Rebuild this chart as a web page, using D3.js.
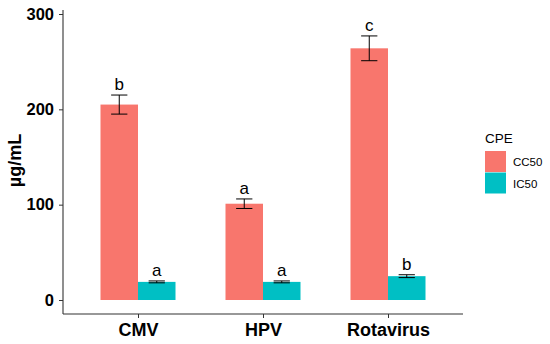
<!DOCTYPE html>
<html><head><meta charset="utf-8">
<script src="https://cdn.jsdelivr.net/npm/d3@7"></script>
<style>body{margin:0;background:#fff}</style>
</head><body>
<svg id="c" width="550" height="344"></svg>
<script>
const categories = ["CMV", "HPV", "Rotavirus"];
const groups = ["CC50", "IC50"];
const cc50 = [205, 101, 264];
const cc50Err = [10, 5, 13];
const cc50Letters = ["b", "a", "c"];
const ic50 = [19, 19, 25];
const ic50Err = [1, 1, 1.5];
const ic50Letters = ["a", "a", "b"];
const yTicks = [0, 100, 200, 300];
const colors = ["#F8766D", "#00BFC4"];

(function () {
const svg = d3.select("#c");
const pL = 63, pR = 463, pT = 10, pB = 314;
const FONT = "Liberation Sans, Arial, sans-serif";
const y = d3.scaleLinear().domain([0, 300]).range([300, 14]);
// discrete x with ggplot-like 0.6 expansion on each side
const x = d3.scalePoint().domain(categories).range([pL, pR]).padding(0.6);
const xs = d3.scaleBand().domain(groups).range([-x.step() * 0.3, x.step() * 0.3]);
const cx = d => x(d.c) + xs(d.g) + xs.bandwidth() / 2;

const data = [];
categories.forEach((c, i) => {
  data.push({c, g: "CC50", v: cc50[i], e: cc50Err[i], l: cc50Letters[i]});
  data.push({c, g: "IC50", v: ic50[i], e: ic50Err[i], l: ic50Letters[i]});
});
const col = d3.scaleOrdinal().domain(groups).range(colors);

svg.selectAll("rect.bar").data(data).enter().append("rect")
  .attr("x", d => x(d.c) + xs(d.g)).attr("width", xs.bandwidth())
  .attr("y", d => y(d.v)).attr("height", d => y(0) - y(d.v))
  .attr("fill", d => col(d.g));

const ew = x.step() * 0.065;
const eb = svg.selectAll("g.err").data(data).enter().append("g").attr("stroke", "#000").attr("stroke-width", 1);
eb.append("line").attr("x1", cx).attr("x2", cx)
  .attr("y1", d => y(d.v + d.e)).attr("y2", d => y(d.v - d.e));
eb.append("line").attr("x1", d => cx(d) - ew).attr("x2", d => cx(d) + ew)
  .attr("y1", d => y(d.v + d.e)).attr("y2", d => y(d.v + d.e));
eb.append("line").attr("x1", d => cx(d) - ew).attr("x2", d => cx(d) + ew)
  .attr("y1", d => y(d.v - d.e)).attr("y2", d => y(d.v - d.e));

svg.selectAll("text.lab").data(data).enter().append("text")
  .attr("x", cx)
  .attr("y", d => y(d.v + d.e) - 5)
  .attr("text-anchor", "middle").attr("font-family", FONT)
  .attr("font-size", 17).attr("fill", "#000").text(d => d.l);

// axes
const yAxis = svg.append("g").attr("transform", `translate(${pL},0)`)
  .call(d3.axisLeft(y).tickValues(yTicks).tickSize(4).tickPadding(5));
yAxis.select(".domain").remove();
yAxis.selectAll("line").attr("stroke", "#333");
yAxis.selectAll("text").attr("font-family", FONT).attr("font-size", 16.5).attr("font-weight", "bold").attr("fill", "#000");
svg.append("line").attr("x1", pL).attr("x2", pL).attr("y1", pT).attr("y2", pB).attr("stroke", "#333").attr("stroke-width", 1.1);
svg.append("line").attr("x1", pL).attr("x2", pR).attr("y1", pB).attr("y2", pB).attr("stroke", "#333").attr("stroke-width", 1.1);

const xAxis = svg.append("g").attr("transform", `translate(0,${pB})`)
  .call(d3.axisBottom(x).tickSize(4).tickPadding(5));
xAxis.select(".domain").remove();
xAxis.selectAll("line").attr("stroke", "#333");
xAxis.selectAll("text").attr("font-family", FONT).attr("font-size", 18).attr("font-weight", "bold").attr("fill", "#000");

svg.append("text").attr("transform", `translate(21,160.5) rotate(-90)`).attr("text-anchor", "middle")
  .attr("font-family", FONT).attr("font-size", 18).attr("font-weight", "bold").text("µg/mL");

// legend
const lg = svg.append("g").attr("transform", "translate(485,0)");
lg.append("text").attr("x", 0).attr("y", 143).attr("font-family", FONT).attr("font-size", 13.5).text("CPE");
groups.forEach((g, i) => {
  lg.append("rect").attr("x", 0).attr("y", 151 + i * 21.5).attr("width", 21).attr("height", 21).attr("fill", colors[i]);
  lg.append("text").attr("x", 28).attr("y", 166 + i * 21.5).attr("font-family", FONT).attr("font-size", 11.5).text(g);
});
})();
</script>
</body></html>
